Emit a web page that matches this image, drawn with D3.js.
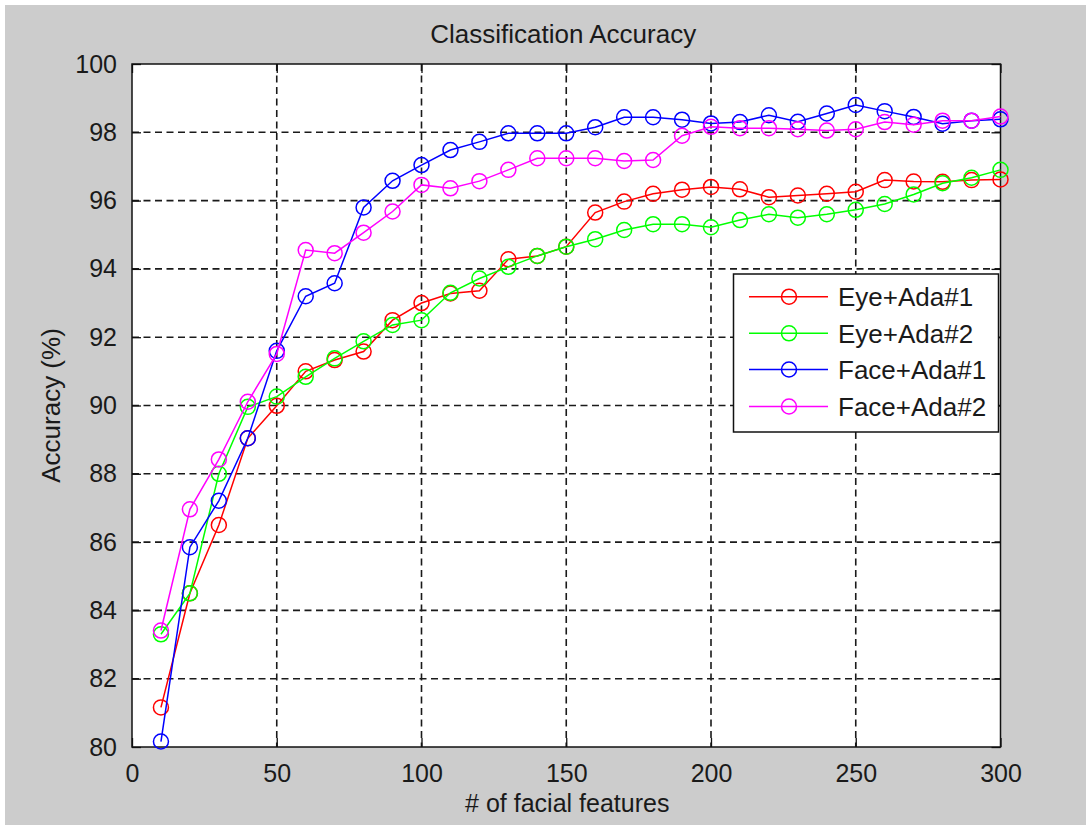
<!DOCTYPE html>
<html>
<head>
<meta charset="utf-8">
<script src="https://cdn.jsdelivr.net/npm/d3@7"></script>
<style>
  html, body { margin: 0; padding: 0; background: #ffffff; }
  svg { display: block; }
  text { font-family: "Liberation Sans", Arial, Helvetica, sans-serif; fill: #1a1a1a; }
</style>
</head>
<body>
<svg id="chart" width="1086" height="827"></svg>
<script>
// ---- data ----
const features = [10,20,30,40,50,60,70,80,90,100,110,120,130,140,150,160,170,180,190,200,210,220,230,240,250,260,270,280,290,300];
const eyeAda1  = [81.16,84.50,86.50,89.04,89.99,91.00,91.33,91.58,92.50,93.00,93.28,93.36,94.28,94.38,94.65,95.65,95.97,96.20,96.32,96.40,96.33,96.10,96.15,96.20,96.26,96.60,96.56,96.55,96.60,96.62];
const eyeAda2  = [83.30,84.50,88.00,89.96,90.26,90.84,91.38,91.88,92.36,92.50,93.30,93.72,94.06,94.38,94.65,94.87,95.14,95.31,95.31,95.22,95.43,95.60,95.50,95.60,95.73,95.90,96.18,96.51,96.67,96.90];
const faceAda1 = [80.16,85.85,87.21,89.04,91.60,93.20,93.58,95.80,96.58,97.04,97.48,97.72,97.97,97.97,97.97,98.15,98.44,98.44,98.37,98.26,98.30,98.50,98.31,98.55,98.80,98.62,98.45,98.25,98.34,98.38];
const faceAda2 = [83.41,86.96,88.42,90.11,91.51,94.55,94.46,95.06,95.68,96.46,96.36,96.57,96.90,97.24,97.24,97.24,97.16,97.19,97.90,98.16,98.12,98.12,98.09,98.05,98.09,98.30,98.22,98.34,98.34,98.46];
const seriesNames = ["Eye+Ada#1","Eye+Ada#2","Face+Ada#1","Face+Ada#2"];
const seriesColors = ["#ff0000","#00ff00","#0000ff","#ff00ff"];
const xTicks = [0,50,100,150,200,250,300];
const yTicks = [80,82,84,86,88,90,92,94,96,98,100];
const titleText = "Classification Accuracy";
const xLabel = "# of facial features";
const yLabel = "Accuracy (%)";

const seriesValues = [eyeAda1, eyeAda2, faceAda1, faceAda2];

// ---- layout ----
const svg = d3.select("#chart");
const W = 1086, H = 827;
const plot = {left: 132, right: 1000.5, top: 64, bottom: 747};

svg.append("rect").attr("x", 5).attr("y", 5).attr("width", W - 5).attr("height", H - 7)
  .attr("fill", "#cccccc");

const x = d3.scaleLinear().domain([0, 300]).range([plot.left, plot.right]);
const y = d3.scaleLinear().domain([80, 100]).range([plot.bottom, plot.top]);

// plot background
svg.append("rect").attr("x", plot.left).attr("y", plot.top)
  .attr("width", plot.right - plot.left).attr("height", plot.bottom - plot.top)
  .attr("fill", "#ffffff");

// grid
const grid = svg.append("g").attr("stroke", "#1a1a1a").attr("stroke-width", 1.6)
  .attr("stroke-dasharray", "7,4.5").attr("fill", "none");
grid.selectAll("line.gx").data(xTicks.slice(1, -1)).join("line")
  .attr("x1", d => x(d)).attr("x2", d => x(d)).attr("y1", plot.top).attr("y2", plot.bottom);
grid.selectAll("line.gy").data(yTicks.slice(1, -1)).join("line")
  .attr("y1", d => y(d)).attr("y2", d => y(d)).attr("x1", plot.left).attr("x2", plot.right);

// axes (ticks inward, on all four sides)
const tickLen = 9;
const fontTick = 25;
const axB = d3.axisBottom(x).tickValues(xTicks).tickSize(-tickLen).tickPadding(tickLen + 8).tickSizeOuter(0);
const axT = d3.axisTop(x).tickValues(xTicks).tickSize(-tickLen).tickFormat("").tickSizeOuter(0);
const axL = d3.axisLeft(y).tickValues(yTicks).tickSize(-tickLen).tickPadding(tickLen + 6).tickSizeOuter(0);
const axR = d3.axisRight(y).tickValues(yTicks).tickSize(-tickLen).tickFormat("").tickSizeOuter(0);

function styleAxis(g) {
  g.select(".domain").remove();
  g.selectAll(".tick line").attr("stroke", "#111").attr("stroke-width", 1.3);
  g.selectAll(".tick text").attr("font-size", fontTick).attr("fill", "#1a1a1a")
    .attr("font-family", '"Liberation Sans", Arial, sans-serif');
}
svg.append("g").attr("transform", `translate(0,${plot.bottom})`).call(axB).call(styleAxis);
svg.append("g").attr("transform", `translate(0,${plot.top})`).call(axT).call(styleAxis);
svg.append("g").attr("transform", `translate(${plot.left},0)`).call(axL).call(styleAxis);
svg.append("g").attr("transform", `translate(${plot.right},0)`).call(axR).call(styleAxis);

// frame
svg.append("rect").attr("x", plot.left).attr("y", plot.top)
  .attr("width", plot.right - plot.left).attr("height", plot.bottom - plot.top)
  .attr("fill", "none").attr("stroke", "#111").attr("stroke-width", 1.5);

// series
const line = d3.line().x((d, i) => x(features[i])).y(d => y(d));
const R = 7.5;
seriesValues.forEach((vals, si) => {
  const g = svg.append("g");
  g.append("path").datum(vals).attr("d", line)
    .attr("fill", "none").attr("stroke", seriesColors[si]).attr("stroke-width", 1.5);
  g.selectAll("circle").data(vals).join("circle")
    .attr("cx", (d, i) => x(features[i])).attr("cy", d => y(d)).attr("r", R)
    .attr("fill", "none").attr("stroke", seriesColors[si]).attr("stroke-width", 1.5);
});

// title and labels
svg.append("text").attr("x", (plot.left + plot.right) / 2 - 3).attr("y", 43)
  .attr("text-anchor", "middle").attr("font-size", 26).text(titleText);
svg.append("text").attr("x", (plot.left + plot.right) / 2 + 1).attr("y", 812)
  .attr("text-anchor", "middle").attr("font-size", 25).text(xLabel);
svg.append("text").attr("transform", `translate(60,${(plot.top + plot.bottom) / 2}) rotate(-90)`)
  .attr("text-anchor", "middle").attr("font-size", 26).text(yLabel);

// legend
const lg = {x: 733.5, y: 274, w: 265, h: 158};
svg.append("rect").attr("x", lg.x).attr("y", lg.y).attr("width", lg.w).attr("height", lg.h)
  .attr("fill", "#ffffff").attr("stroke", "#111").attr("stroke-width", 1.5);
const rowY = [296.7, 333.3, 369.5, 406.5];
seriesNames.forEach((name, i) => {
  const g = svg.append("g");
  g.append("line").attr("x1", 749).attr("x2", 828).attr("y1", rowY[i]).attr("y2", rowY[i])
    .attr("stroke", seriesColors[i]).attr("stroke-width", 1.5);
  g.append("circle").attr("cx", 789).attr("cy", rowY[i]).attr("r", R)
    .attr("fill", "none").attr("stroke", seriesColors[i]).attr("stroke-width", 1.5);
  g.append("text").attr("x", 838).attr("y", rowY[i]).attr("dy", "0.36em")
    .attr("font-size", 26).text(name);
});
</script>
</body>
</html>
